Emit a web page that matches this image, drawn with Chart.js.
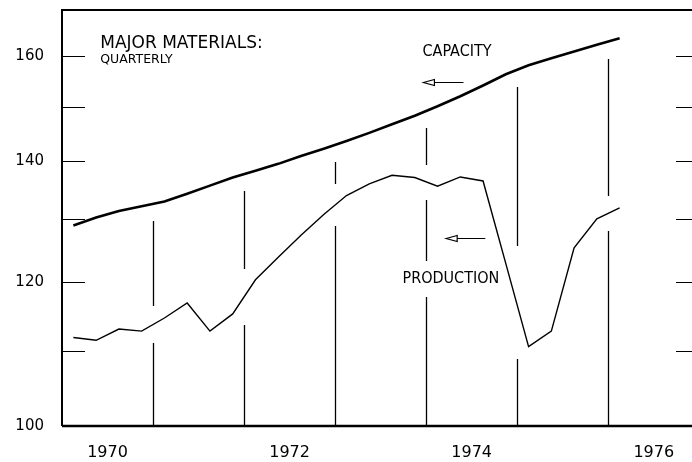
<!DOCTYPE html>
<html lang="en">
<head>
<meta charset="UTF-8">
<title>Major Materials: Capacity and Production</title>
<script src="https://cdn.jsdelivr.net/npm/chart.js"></script>
<style>
  html, body { margin: 0; padding: 0; background: #fff; }
</style>
</head>
<body>
<canvas id="materialsChart" width="692" height="462"></canvas>
<script>
// quarterly index values
const quarters = [
  '1970 Q1', '1970 Q2', '1970 Q3', '1970 Q4',
  '1971 Q1', '1971 Q2', '1971 Q3', '1971 Q4',
  '1972 Q1', '1972 Q2', '1972 Q3', '1972 Q4',
  '1973 Q1', '1973 Q2', '1973 Q3', '1973 Q4',
  '1974 Q1', '1974 Q2', '1974 Q3', '1974 Q4',
  '1975 Q1', '1975 Q2', '1975 Q3', '1975 Q4',
  '1976 Q1'
];
const capacity = [
  129.0, 130.3, 131.4, 132.2,
  133.0, 134.3, 135.7, 137.1,
  138.3, 139.5, 140.9, 142.2,
  143.6, 145.1, 146.7, 148.3,
  150.1, 152.0, 154.1, 156.3,
  158.1, 159.5, 160.9, 162.3,
  163.6
];
const production = [
  111.9, 111.5, 113.1, 112.8,
  114.7, 116.9, 112.8, 115.3,
  120.4, 123.9, 127.4, 130.8,
  134.0, 136.0, 137.5, 137.1,
  135.6, 137.2, 136.5, 122.9,
  110.6, 112.8, 125.4, 130.1,
  131.9
];
const yearLabels = [1970, 1972, 1974, 1976];
const yLabels = [100, 120, 140, 160];
const yTickMarks = [110, 120, 130, 140, 150, 160];
const yearBreaks = [1971, 1972, 1973, 1974, 1975, 1976];

// quarter label -> middle of that quarter on a decimal year axis
function quarterPos(q) {
  const parts = q.split(' Q');
  return Number(parts[0]) + (Number(parts[1]) - 0.5) / 4;
}
const capacityPts = quarters.map((q, i) => ({ x: quarterPos(q), y: capacity[i] }));
const productionPts = quarters.map((q, i) => ({ x: quarterPos(q), y: production[i] }));

const notes = [
  { text: 'MAJOR MATERIALS:', x: 1970.42, y: 162.6, font: '17px "DejaVu Sans"' },
  { text: 'QUARTERLY', x: 1970.42, y: 159.2, font: '12.5px "DejaVu Sans"' },
  { text: 'CAPACITY', x: 1973.96, y: 160.8, font: '16px "DejaVu Sans Condensed", "DejaVu Sans"' },
  { text: 'PRODUCTION', x: 1973.74, y: 120.6, font: '16px "DejaVu Sans Condensed", "DejaVu Sans"' }
];
const arrows = [
  { x1: 1973.97, x2: 1974.41, y: 154.8 },
  { x1: 1974.22, x2: 1974.65, y: 127.0 }
];

function distToSegs(px, py, pts) {
  let best = Infinity;
  for (let i = 0; i < pts.length - 1; i++) {
    const ax = pts[i].x, ay = pts[i].y, bx = pts[i + 1].x, by = pts[i + 1].y;
    const dx = bx - ax, dy = by - ay;
    let t = ((px - ax) * dx + (py - ay) * dy) / (dx * dx + dy * dy);
    t = Math.max(0, Math.min(1, t));
    const d = Math.hypot(px - (ax + t * dx), py - (ay + t * dy));
    if (d < best) best = d;
  }
  return best;
}

function yAtX(pts, x) {
  for (let i = 0; i < pts.length - 1; i++) {
    if (x >= pts[i].x && x <= pts[i + 1].x) {
      const t = (x - pts[i].x) / (pts[i + 1].x - pts[i].x);
      return pts[i].y + t * (pts[i + 1].y - pts[i].y);
    }
  }
  return pts[pts.length - 1].y;
}

const framePlugin = {
  id: 'frame',
  beforeDatasetsDraw(chart) {
    const ctx = chart.ctx;
    const xs = chart.scales.x, ys = chart.scales.y;
    const area = chart.chartArea;
    const capPx = chart.getDatasetMeta(0).data.map(p => ({ x: p.x, y: p.y }));
    const prodPx = chart.getDatasetMeta(1).data.map(p => ({ x: p.x, y: p.y }));

    // boxes round the labels that the year lines must not cross
    const boxes = notes.map(n => {
      ctx.font = n.font;
      const w = ctx.measureText(n.text).width;
      const x = xs.getPixelForValue(n.x), y = ys.getPixelForValue(n.y);
      return { l: x - 6, r: x + w + 6, t: y - 18, b: y + 18 };
    });

    ctx.save();
    ctx.strokeStyle = '#000';
    ctx.lineWidth = 1.3;
    yearBreaks.forEach(yr => {
      const x = Math.round(xs.getPixelForValue(yr)) + 0.5;
      const top = yAtX(capPx, x) + 17;
      let runStart = null;
      for (let y = Math.ceil(top); y <= area.bottom; y++) {
        const free = distToSegs(x, y, prodPx) > 16 &&
          !boxes.some(b => x > b.l && x < b.r && y > b.t && y < b.b);
        if (free && runStart === null) runStart = y;
        if ((!free || y === area.bottom) && runStart !== null) {
          ctx.beginPath();
          ctx.moveTo(x, runStart);
          ctx.lineTo(x, y);
          ctx.stroke();
          runStart = null;
        }
      }
    });
    ctx.restore();
  },
  afterDraw(chart) {
    const ctx = chart.ctx;
    const xs = chart.scales.x, ys = chart.scales.y;
    const area = chart.chartArea;
    ctx.save();
    ctx.strokeStyle = '#000';
    ctx.fillStyle = '#000';

    // frame
    ctx.lineWidth = 2;
    ctx.beginPath();
    ctx.moveTo(area.right, area.top);
    ctx.lineTo(area.left, area.top);
    ctx.lineTo(area.left, area.bottom);
    ctx.stroke();
    ctx.lineWidth = 2.5;
    ctx.beginPath();
    ctx.moveTo(area.left, area.bottom);
    ctx.lineTo(area.right, area.bottom);
    ctx.stroke();

    // inward tick marks on both sides
    ctx.lineWidth = 1.2;
    yTickMarks.forEach(v => {
      const y = Math.round(ys.getPixelForValue(v)) + 0.5;
      ctx.beginPath();
      ctx.moveTo(area.left, y);
      ctx.lineTo(area.left + 23, y);
      ctx.moveTo(area.right - 16, y);
      ctx.lineTo(area.right, y);
      ctx.stroke();
    });

    // labels
    ctx.textBaseline = 'middle';
    ctx.textAlign = 'left';
    notes.forEach(n => {
      ctx.font = n.font;
      ctx.fillText(n.text, xs.getPixelForValue(n.x), ys.getPixelForValue(n.y));
    });

    // arrows pointing to the left-hand scale
    ctx.lineWidth = 1.2;
    arrows.forEach(a => {
      const x1 = xs.getPixelForValue(a.x1), x2 = xs.getPixelForValue(a.x2);
      const y = Math.round(ys.getPixelForValue(a.y)) + 0.5;
      ctx.beginPath();
      ctx.moveTo(x1, y);
      ctx.lineTo(x1 + 11, y - 3);
      ctx.lineTo(x1 + 11, y + 3);
      ctx.closePath();
      ctx.moveTo(x1 + 11, y);
      ctx.lineTo(x2, y);
      ctx.stroke();
    });
    ctx.restore();
  }
};

const ctx = document.getElementById('materialsChart').getContext('2d');
const materialsChart = new Chart(ctx, {
  type: 'line',
  data: {
    datasets: [
      {
        label: 'Capacity',
        data: capacityPts,
        borderColor: '#000',
        borderWidth: 2.6,
        pointRadius: 0,
        tension: 0
      },
      {
        label: 'Production',
        data: productionPts,
        borderColor: '#000',
        borderWidth: 1.4,
        pointRadius: 0,
        tension: 0
      }
    ]
  },
  options: {
    responsive: false,
    animation: false,
    devicePixelRatio: 1,
    layout: { padding: { top: 10, right: 0, bottom: 0, left: 0 } },
    plugins: {
      legend: { display: false },
      tooltip: { enabled: false }
    },
    scales: {
      x: {
        type: 'linear',
        min: 1970,
        max: 1976.92,
        grid: { display: false, drawTicks: false },
        border: { display: false },
        afterBuildTicks: s => { s.ticks = yearLabels.map(y => ({ value: y + 0.5 })); },
        afterFit: s => { s.height = 36; s.paddingLeft = 0; s.paddingRight = 0; },
        ticks: {
          autoSkip: false,
          maxRotation: 0,
          padding: 17,
          color: '#000',
          font: { family: 'DejaVu Sans', size: 16 },
          callback: v => String(Math.floor(v))
        }
      },
      y: {
        type: 'logarithmic',
        min: 100,
        max: 169.6,
        grid: { display: false, drawTicks: false },
        border: { display: false },
        afterBuildTicks: s => { s.ticks = yLabels.map(v => ({ value: v })); },
        afterFit: s => { s.width = 62; s.paddingTop = 0; s.paddingBottom = 0; },
        ticks: {
          autoSkip: false,
          padding: 18,
          color: '#000',
          font: { family: 'DejaVu Sans', size: 15 },
          callback: v => String(v)
        }
      }
    }
  },
  plugins: [framePlugin]
});
</script>
</body>
</html>
